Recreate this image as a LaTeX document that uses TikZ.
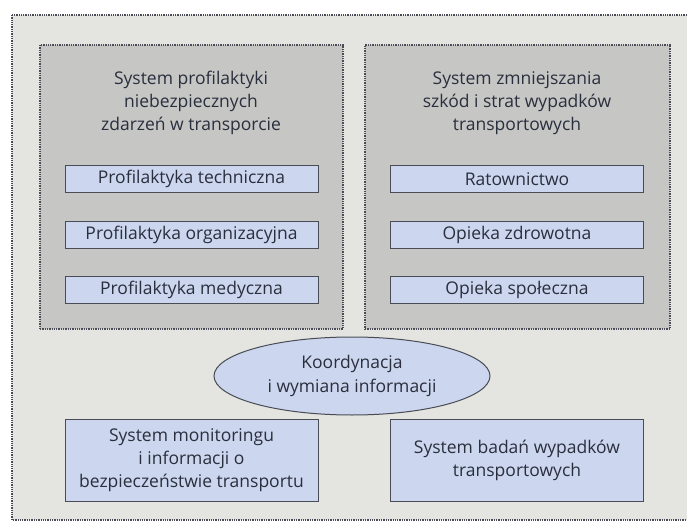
\documentclass[tikz,border=0pt]{standalone}
\usepackage{fontspec}
\setmainfont{Open Sans}
\usetikzlibrary{positioning,shapes.geometric}

\definecolor{framebg}{HTML}{E4E4E0}
\definecolor{panelbg}{HTML}{C6C6C4}
\definecolor{itembg}{HTML}{CCD6EE}
\definecolor{inkline}{HTML}{4A4C55}
\definecolor{inktext}{HTML}{2A2F3E}

\tikzset{
  panel/.style={draw=inkline, densely dotted, line width=1.3pt, fill=panelbg,
    minimum height=284pt},
  paneltitle/.style={align=center, text=inktext, font=\fontsize{17.5}{23}\selectfont},
  item/.style={draw=inkline, line width=1pt, fill=itembg, text=inktext,
    minimum width=253pt, minimum height=27pt, inner sep=0pt,
    font=\fontsize{17.5}{20}\selectfont},
  bigitem/.style={item, minimum height=82pt, align=center,
    font=\fontsize{17.5}{23}\selectfont},
  hub/.style={ellipse, draw=inkline, line width=1pt, fill=itembg, text=inktext,
    minimum width=276pt, minimum height=78pt, inner sep=0pt, align=center,
    font=\fontsize{17.5}{24}\selectfont}
}

\begin{document}
\begin{tikzpicture}[x=1pt,y=-1pt]
    \useasboundingbox (0,0) rectangle (687,526);
    \clip (0,0) rectangle (687,526);
    % outer frame
    \draw[draw=inkline, densely dotted, line width=1.3pt, fill=framebg]
        (12,15) rectangle (700,520);

    % left panel: prevention
    \node[panel, minimum width=303pt] (prevpanel) at (191.5,187) {};
    \node[paneltitle] (prevtitle) at (191,103)
        {System profilaktyki\\niebezpiecznych\\zdarzeń w transporcie};
    \node[item] (tech) at (191.5,179) {Profilaktyka techniczna};
    \node[item] (org) at (191.5,235) {Profilaktyka organizacyjna};
    \node[item] (med) at (191.5,290) {Profilaktyka medyczna};

    % right panel: damage reduction
    \node[panel, minimum width=305pt] (losspanel) at (517.5,187) {};
    \node[paneltitle] (losstitle) at (517,103)
        {System zmniejszania\\szkód i strat wypadków\\transportowych};
    \node[item] (rescue) at (517,179) {Ratownictwo};
    \node[item] (health) at (517,235) {Opieka zdrowotna};
    \node[item] (social) at (517,290) {Opieka społeczna};

    % coordination and bottom systems
    \node[hub] (coord) at (352,376) {Koordynacja\\i wymiana informacji};
    \node[bigitem] (monitor) at (191.5,460)
        {System monitoringu\\i informacji o\\bezpieczeństwie transportu};
    \node[bigitem] (research) at (517,460)
        {System badań wypadków\\transportowych};
\end{tikzpicture}
\end{document}
